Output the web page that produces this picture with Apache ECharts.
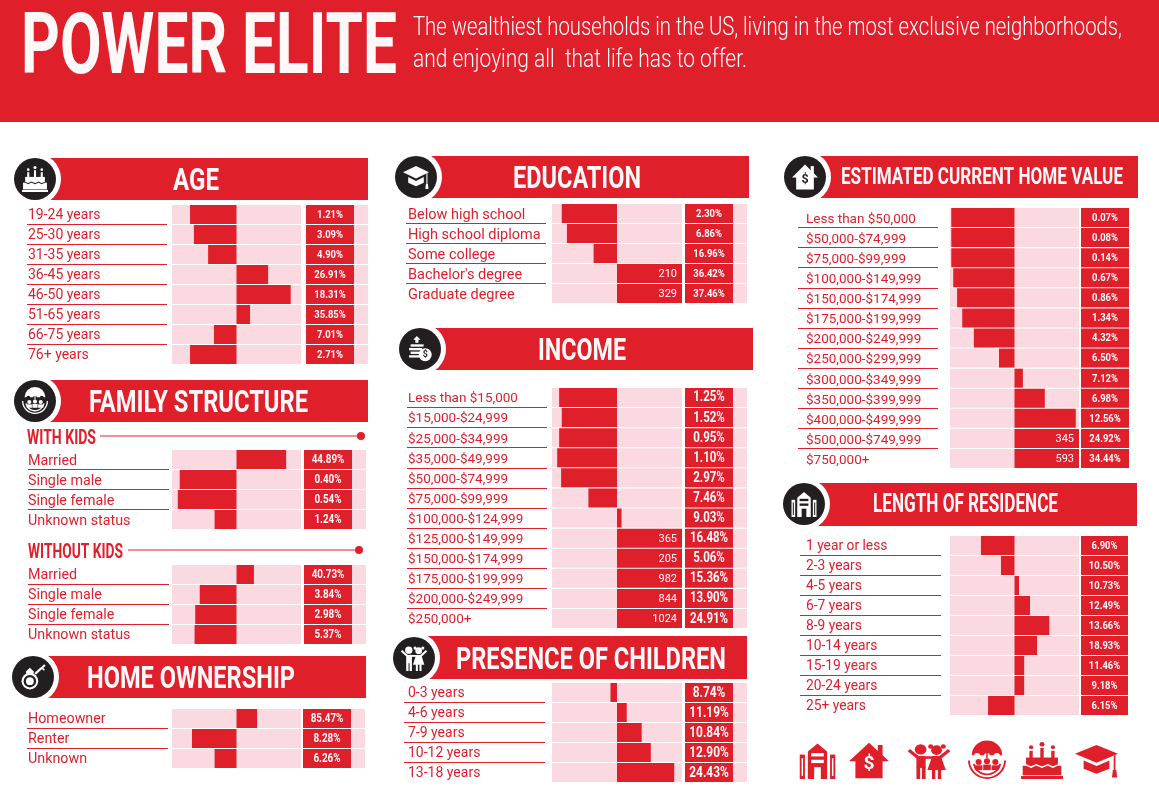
<!DOCTYPE html>
<html>
<head>
<meta charset="utf-8">
<title>Power Elite</title>
<script src="https://cdn.jsdelivr.net/npm/echarts@6/dist/echarts.min.js"></script>
<style>
  html, body { margin: 0; padding: 0; background: #fff; }
  #chart { width: 1159px; height: 788px; }
</style>
</head>
<body>
<div id="chart"></div>
<script>
// index values: 100 = average, bars diverge from 100, axis stops at 0 and 200
const ageCats = ["19-24 years", "25-30 years", "31-35 years", "36-45 years", "46-50 years", "51-65 years", "66-75 years", "76+ years"];
const ageIndex = [28, 34, 56, 149, 184, 121, 65, 28];
const agePct = [1.21, 3.09, 4.9, 26.91, 18.31, 35.85, 7.01, 2.71];

const statusCats = ["Married", "Single male", "Single female", "Unknown status"];
const withKidsIndex = [177, 12, 9, 66];
const withKidsPct = [44.89, 0.4, 0.54, 1.24];
const withoutKidsIndex = [127, 43, 36, 35];
const withoutKidsPct = [40.73, 3.84, 2.98, 5.37];

const ownerCats = ["Homeowner", "Renter", "Unknown"];
const ownerIndex = [132, 31, 66];
const ownerPct = [85.47, 8.28, 6.26];

const eduCats = ["Below high school", "High school diploma", "Some college", "Bachelor's degree", "Graduate degree"];
const eduIndex = [15, 23, 64, 210, 329];
const eduPct = [2.3, 6.86, 16.96, 36.42, 37.46];

const incomeCats = ["Less than $15,000", "$15,000-$24,999", "$25,000-$34,999", "$35,000-$49,999", "$50,000-$74,999", "$75,000-$99,999", "$100,000-$124,999", "$125,000-$149,999", "$150,000-$174,999", "$175,000-$199,999", "$200,000-$249,999", "$250,000+"];
const incomeIndex = [11, 15, 11, 8, 14, 56, 107, 365, 205, 982, 844, 1024];
const incomePct = [1.25, 1.52, 0.95, 1.1, 2.97, 7.46, 9.03, 16.48, 5.06, 15.36, 13.9, 24.91];

const kidsCats = ["0-3 years", "4-6 years", "7-9 years", "10-12 years", "13-18 years"];
const kidsIndex = [90, 115, 138, 152, 188];
const kidsPct = [8.74, 11.19, 10.84, 12.9, 24.43];

const homeCats = ["Less than $50,000", "$50,000-$74,999", "$75,000-$99,999", "$100,000-$149,999", "$150,000-$174,999", "$175,000-$199,999", "$200,000-$249,999", "$250,000-$299,999", "$300,000-$349,999", "$350,000-$399,999", "$400,000-$499,999", "$500,000-$749,999", "$750,000+"];
const homeIndex = [2, 2, 2, 5, 11, 19, 37, 76, 113, 147, 195, 345, 593];
const homePct = [0.07, 0.08, 0.14, 0.67, 0.86, 1.34, 4.32, 6.5, 7.12, 6.98, 12.56, 24.92, 34.44];

const stayCats = ["1 year or less", "2-3 years", "4-5 years", "6-7 years", "8-9 years", "10-14 years", "15-19 years", "20-24 years", "25+ years"];
const stayIndex = [48, 79, 107, 124, 154, 135, 115, 115, 59];
const stayPct = [6.9, 10.5, 10.73, 12.49, 13.66, 18.93, 11.46, 9.18, 6.15];

const RED = "#df202b";
const PINK = "#fadae0";
const INK = "#231f20";
const PAPER = "#fff8f9";
const BODY = 'Roboto, sans-serif';

/* ========== table layout ========== */
const tables = [
  { cats: ageCats, idx: ageIndex, pct: agePct, top: 204.5, pitch: 20, rule: [27, 167], labelX: 28, labelSize: 14, labelDy: 1, bar: [172, 301], cell: [306, 354, 368], pctSize: 11.5 },
  { cats: statusCats, idx: withKidsIndex, pct: withKidsPct, top: 449.5, pitch: 20, rule: [28, 169], labelX: 28, labelSize: 14.3, labelDy: 2, bar: [172, 301], cell: [304, 352, 366], pctSize: 12 },
  { cats: statusCats, idx: withoutKidsIndex, pct: withoutKidsPct, top: 564.5, pitch: 20, rule: [28, 169], labelX: 28, labelSize: 14.3, labelDy: 1, bar: [172, 301], cell: [304, 352, 366], pctSize: 12 },
  { cats: ownerCats, idx: ownerIndex, pct: ownerPct, top: 708.5, pitch: 20, rule: [27, 168], labelX: 28, labelSize: 14.3, labelDy: 1, bar: [172, 301], cell: [303, 351, 365], pctSize: 12 },
  { cats: eduCats, idx: eduIndex, pct: eduPct, top: 203.5, pitch: 20, rule: [406, 546], labelX: 408, labelSize: 14.5, labelDy: 1.5, bar: [552, 682], cell: [685, 733, 747], pctSize: 11.5 },
  { cats: incomeCats, idx: incomeIndex, pct: incomePct, top: 387.4, pitch: 20.1, rule: [407, 547], labelX: 408, labelSize: 13.5, labelDy: 1.5, bar: [552, 682], cell: [685, 733, 747], pctSize: 14 },
  { cats: kidsCats, idx: kidsIndex, pct: kidsPct, top: 682.5, pitch: 20, rule: [404, 545], labelX: 408, labelSize: 14, labelDy: 1, bar: [552, 682], cell: [685, 733, 747], pctSize: 14.5 },
  { cats: homeCats, idx: homeIndex, pct: homePct, top: 207.4, pitch: 20.09, rule: [798, 938], labelX: 806, labelSize: 13.5, labelDy: 2, bar: [950, 1079], cell: [1081, 1129, 1129], pctSize: 11.5 },
  { cats: stayCats, idx: stayIndex, pct: stayPct, top: 535.5, pitch: 20, rule: [800, 941], labelX: 806, labelSize: 13.8, labelDy: 1, bar: [950, 1079], cell: [1081, 1128, 1128], pctSize: 11.5 },
];

/* ========== section headers ========== */
const headers = [
  { title: "AGE", x: [173, 219], capY: 179.5, size: 32, band: [158, 200, 368], circle: [35, 179], icon: "cake" },
  { title: "FAMILY STRUCTURE", x: [89, 308], capY: 401.5, size: 32, band: [380, 422, 368], circle: [35, 401], icon: "umbrella" },
  { title: "HOME OWNERSHIP", x: [87, 295], capY: 677, size: 32, band: [656, 698, 366], circle: [33, 677], icon: "key" },
  { title: "EDUCATION", x: [513, 641], capY: 177.5, size: 32, band: [156, 198, 749], circle: [416, 177], icon: "gradcap" },
  { title: "INCOME", x: [538, 626], capY: 349.5, size: 32, band: [328, 370, 753], circle: [420, 349], icon: "coins" },
  { title: "PRESENCE OF CHILDREN", x: [456, 726], capY: 658.5, size: 32, band: [636, 679, 747], circle: [414, 658], icon: "kids" },
  { title: "ESTIMATED CURRENT HOME VALUE", x: [841, 1123], capY: 176.5, size: 24, band: [156, 198, 1138], circle: [805, 177], icon: "house" },
  { title: "LENGTH OF RESIDENCE", x: [873, 1058], capY: 504, size: 25, band: [483, 526, 1137], circle: [804, 504], icon: "building" },
];

/* ========== text helper: squeeze to the measured width ========== */
const ruler = document.createElement("canvas").getContext("2d");
function fitText(text, x0, x1, cy, size, weight, fill) {
  const font = weight + " " + size + "px " + BODY;
  ruler.font = font;
  return {
    type: "text", x: x0, y: cy + size * 0.08, scaleX: (x1 - x0) / ruler.measureText(text).width,
    style: { text, font, fill, align: "left", verticalAlign: "middle" },
  };
}

/* ========== icons, drawn in a 100x100 box ========== */
function rect(x, y, width, height, fill) { return { type: "rect", shape: { x, y, width, height }, style: { fill } }; }
function dot(cx, cy, r, fill) { return { type: "circle", shape: { cx, cy, r }, style: { fill } }; }
function poly(points, fill) { return { type: "polygon", shape: { points }, style: { fill } }; }
function stroke(points, color, lineWidth) { return { type: "polyline", shape: { points }, style: { stroke: color, lineWidth, fill: null } }; }
function slice(cx, cy, r, r0, a, b, fill) { return { type: "sector", shape: { cx, cy, r, r0, startAngle: a, endAngle: b }, style: { fill } }; }

const iconParts = {
  gradcap: (f, b) => [
    poly([[50, 8], [100, 32], [50, 56], [0, 32]], f),
    poly([[20, 50], [50, 65], [80, 50], [80, 72], [50, 86], [20, 72]], f),
    rect(90, 36, 4, 40, f), poly([[88, 76], [96, 76], [98, 96], [86, 96]], f),
  ],
  house: (f, b) => [
    rect(72, 8, 12, 30, f),
    poly([[50, 2], [100, 52], [84, 52], [84, 98], [16, 98], [16, 52], [0, 52]], f),
    { type: "text", x: 50, y: 62, style: { text: "$", font: "bold 48px " + BODY, fill: b, align: "center", verticalAlign: "middle" } },
  ],
  building: (f, b) => [
    poly([[24, 26], [50, 4], [76, 26], [76, 100], [24, 100]], f),
    rect(33, 30, 34, 9, b), rect(33, 48, 34, 9, b), rect(41, 68, 18, 32, b),
    rect(2, 34, 14, 66, f), rect(84, 34, 14, 66, f), rect(7, 44, 4, 48, b), rect(89, 44, 4, 48, b),
  ],
  kids: (f, b) => [
    dot(30, 20, 14, f), dot(68, 22, 13, f), dot(54, 12, 6, f), dot(84, 12, 6, f),
    rect(20, 38, 22, 32, f), rect(20, 68, 9, 32, f), rect(33, 68, 9, 32, f),
    poly([[58, 38], [78, 38], [90, 76], [46, 76]], f), rect(57, 74, 8, 26, f), rect(71, 74, 8, 26, f),
    stroke([[24, 42], [2, 22]], f, 8), stroke([[38, 42], [60, 42]], f, 7), stroke([[76, 42], [98, 22]], f, 8),
  ],
  umbrella: (f, b) => [
    slice(50, 36, 40, 0, Math.PI, Math.PI * 2, f),
    dot(24, 38, 8, b), dot(50, 38, 8, b), dot(76, 38, 8, b),
    rect(48, 0, 4, 44, f),
    dot(28, 54, 8, f), dot(50, 52, 8, f), dot(72, 54, 8, f),
    rect(18, 63, 20, 13, f), rect(40, 61, 20, 15, f), rect(62, 63, 20, 13, f),
    slice(50, 52, 38, 33, 0.2, Math.PI - 0.2, f),
    slice(50, 50, 50, 45, 0, Math.PI, f),
  ],
  cake: (f, b) => [
    rect(20, 24, 8, 20, f), rect(46, 16, 8, 28, f), rect(72, 24, 8, 20, f),
    dot(24, 14, 5, f), dot(50, 6, 6, f), dot(76, 14, 5, f),
    rect(12, 42, 76, 24, f), rect(4, 64, 92, 26, f), rect(0, 92, 100, 8, f),
    stroke([[12, 62], [24, 68], [36, 62], [50, 68], [64, 62], [76, 68], [88, 62]], b, 4),
  ],
  coins: (f, b) => [
    poly([[38, 0], [52, 14], [44, 14], [44, 26], [32, 26], [32, 14], [24, 14]], f),
    rect(14, 32, 50, 9, f), rect(8, 46, 50, 9, f), rect(14, 60, 36, 9, f), rect(8, 74, 40, 9, f),
    dot(70, 72, 25, f),
    { type: "text", x: 70, y: 73, style: { text: "$", font: "bold 34px " + BODY, fill: b, align: "center", verticalAlign: "middle" } },
  ],
  key: (f, b) => [
    dot(38, 66, 32, f), dot(38, 66, 24, b), dot(38, 66, 15, f),
    poly([[22, 30], [38, 14], [54, 30], [50, 38], [26, 38]], f),
    stroke([[58, 38], [96, 4]], f, 8), stroke([[84, 14], [94, 24]], f, 6),
  ],
};

function icon(name, x, y, w, h, fg, bg) {
  return { type: "group", x, y, scaleX: w / 100, scaleY: h / 100, children: iconParts[name](fg, bg) };
}

/* ========== fixed graphics ========== */
const graphics = [
  rect(0, 0, 1159, 122, RED),
  fitText("POWER ELITE", 21, 397, 44.5, 86, 700, PAPER),
  fitText("The wealthiest households in the US, living in the most exclusive neighborhoods,", 413, 1122, 27, 25, 300, PAPER),
  fitText("and enjoying all  that life has to offer.", 413, 747, 59, 25, 300, PAPER),
];

headers.forEach((h) => {
  const [y0, y1, x1] = h.band;
  const [cx, cy] = h.circle;
  graphics.push(rect(cx + 10, y0, x1 - cx - 10, y1 - y0, RED));
  graphics.push(dot(cx, cy, 26, "#fff"));
  graphics.push(dot(cx, cy, 21, INK));
  graphics.push(icon(h.icon, cx - 13, cy - 13, 26, 26, "#fff", INK));
  graphics.push(fitText(h.title, h.x[0], h.x[1], h.capY, h.size, 700, PAPER));
});

// WITH KIDS / WITHOUT KIDS sub heads
graphics.push(fitText("WITH KIDS", 27, 96, 437, 20, 700, RED));
graphics.push({ type: "line", shape: { x1: 100, y1: 436, x2: 360, y2: 436 }, style: { stroke: RED, lineWidth: 1 } });
graphics.push(dot(361, 436, 4, RED));
graphics.push(fitText("WITHOUT KIDS", 28, 123, 551, 20, 700, RED));
graphics.push({ type: "line", shape: { x1: 128, y1: 550, x2: 356, y2: 550 }, style: { stroke: RED, lineWidth: 1 } });
graphics.push(dot(359, 550, 4, RED));

// red icon row at the bottom right
graphics.push(icon("building", 799, 742, 37, 37, RED, "#fff"));
graphics.push(icon("house", 849, 742, 40, 37, RED, "#fff"));
graphics.push(icon("kids", 908, 742, 42, 37, RED, "#fff"));
graphics.push(icon("umbrella", 968, 742, 38, 37, RED, "#fff"));
graphics.push(icon("cake", 1021, 742, 42, 37, RED, "#fff"));
graphics.push(icon("gradcap", 1075, 742, 43, 37, RED, "#fff"));

/* ========== grids: labels, rules, index bars, percent cells ========== */
const grid = [], xAxis = [], yAxis = [], series = [];

function addGrid(left, right, t, min, max, yExtra, dy) {
  const height = t.pitch * t.cats.length;
  grid.push({ left, width: right - left, top: t.top + (dy || 0), height, containLabel: false });
  xAxis.push({ type: "value", gridIndex: grid.length - 1, min, max, show: false });
  yAxis.push(Object.assign({
    type: "category", gridIndex: grid.length - 1, data: t.cats, inverse: true, show: false,
  }, yExtra || {}));
  return grid.length - 1;
}

// one row of the percent column: pink band, red cell, squeezed bold share
function renderCell(params, api) {
  const row = api.value(1);
  const start = api.coord([0, row]);
  const cellEnd = api.coord([1, row]);
  const bandEnd = api.coord([api.value(2), row]);
  const h = 19;
  const y = start[1] - h / 2;
  return {
    type: "group",
    children: [
      { type: "rect", shape: { x: start[0], y, width: bandEnd[0] - start[0], height: h }, style: { fill: PINK } },
      { type: "rect", shape: { x: start[0], y, width: cellEnd[0] - start[0], height: h }, style: { fill: RED } },
      {
        type: "text", x: (start[0] + cellEnd[0]) / 2, y: start[1] + 0.5, scaleX: 0.82,
        style: {
          text: api.value(3).toFixed(2) + "%", fill: PAPER, align: "center", verticalAlign: "middle",
          font: "bold " + api.value(4) + "px " + BODY,
        },
      },
    ],
  };
}

tables.forEach((t) => {
  // thin rules between rows
  addGrid(t.rule[0], t.rule[1], t, 0, 1, {
    show: true,
    axisLine: { show: false },
    axisTick: { show: false },
    axisLabel: { show: false },
    splitLine: {
      show: true, interval: 0, showMinLine: false, showMaxLine: false,
      lineStyle: { color: RED, width: 1 },
    },
  });

  // row labels sit a little below the centre of their row
  addGrid(t.rule[0], t.rule[1], t, 0, 1, {
    show: true,
    axisLine: { show: false },
    axisTick: { show: false },
    splitLine: { show: false },
    axisLabel: {
      inside: true, interval: 0, margin: t.labelX - t.rule[0],
      color: RED, fontFamily: BODY, fontSize: t.labelSize, hideOverlap: false,
    },
  }, t.labelDy);

  // diverging index bars, anything past 200 is clipped and shows its number
  const barGrid = addGrid(t.bar[0], t.bar[1], t, -100, 100);
  series.push({
    type: "bar", xAxisIndex: barGrid, yAxisIndex: barGrid, barWidth: 19, clip: true,
    silent: true, showBackground: true, backgroundStyle: { color: PINK },
    itemStyle: { color: RED },
    data: t.idx.map((v) => ({
      value: v - 100,
      label: {
        show: v > 200, position: "insideRight", distance: 5, formatter: String(v), offset: [0, 1],
        color: "#fff", fontFamily: BODY, fontSize: 11,
      },
    })),
  });

  // percent cell: one full red block per row with the share printed in it
  const bandMax = (t.cell[2] - t.cell[0]) / (t.cell[1] - t.cell[0]);
  const cellGrid = addGrid(t.cell[0], t.cell[2], t, 0, bandMax);
  series.push({
    type: "custom", xAxisIndex: cellGrid, yAxisIndex: cellGrid, silent: true,
    renderItem: renderCell,
    encode: { x: 0, y: 1 },
    data: t.pct.map((p, i) => [1, i, bandMax, p, t.pctSize]),
  });
});

const chart = echarts.init(document.getElementById("chart"));
chart.setOption({
  animation: false,
  backgroundColor: "#fff",
  graphic: { elements: graphics },
  grid, xAxis, yAxis, series,
});
</script>
</body>
</html>
